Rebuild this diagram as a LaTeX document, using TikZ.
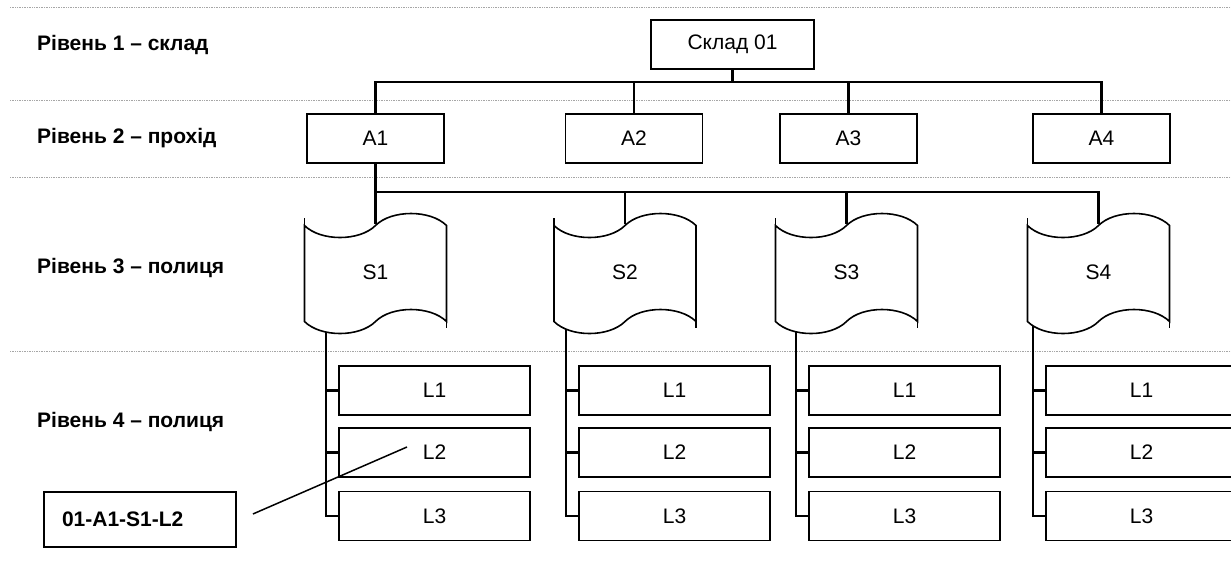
\documentclass[tikz,border=0pt]{standalone}
\usepackage{fontspec}
\setmainfont{Liberation Sans}
\usetikzlibrary{backgrounds}
\begin{document}
\begin{tikzpicture}[x=1pt,y=-1pt,
  box/.style={draw, line width=1.8pt, fill=white, inner sep=0pt, minimum height=49pt, font=\fontsize{21}{25}\selectfont},
  shelftext/.style={inner sep=0pt, minimum width=142pt, minimum height=96pt, font=\fontsize{21}{25}\selectfont},
  conn/.style={line width=2.2pt},
  lvl/.style={anchor=west, inner sep=0pt, font=\fontsize{21}{25}\selectfont\bfseries},
  sep/.style={gray!70, line width=0.7pt, densely dotted}]
\useasboundingbox (0,0) rectangle (1231,574);
\node[lvl] (lv1) at (37,45) {Рівень 1 – склад};
\node[lvl] (lv2) at (37,138) {Рівень 2 – прохід};
\node[lvl] (lv3) at (37,268) {Рівень 3 – полиця};
\node[lvl] (lv4) at (37,422) {Рівень 4 – полиця};
\node[box, minimum width=163pt] (sklad) at (732.5,44.5) {Склад 01};
\node[box, minimum width=137pt] (a1) at (375.5,138.5) {A1};
\node[box, minimum width=137pt] (a2) at (634,138.5) {A2};
\node[box, minimum width=137pt] (a3) at (848.5,138.5) {A3};
\node[box, minimum width=137pt] (a4) at (1101.5,138.5) {A4};
\foreach \i/\x in {1/375.5, 2/625, 3/846.5, 4/1098.5}{
  \begin{scope}[shift={(\x,272.5)}, line width=1.6pt]
    \filldraw[fill=white] (-71,-47) .. controls (-55,-31) and (-16,-31) .. (0,-47)
      .. controls (16,-63) and (55,-63) .. (71,-47) -- (71,49)
      .. controls (55,33) and (16,33) .. (0,49)
      .. controls (-16,65) and (-55,65) .. (-71,49) -- cycle;
    \draw (-71,-47) -- (-71,-55);
    \draw (71,49) -- (71,55);
  \end{scope}
  \node[shelftext] (s\i) at (\x,272.5) {S\i};
}
\foreach \i/\x in {1/434.5, 2/674.5, 3/904.5, 4/1141.5}{
  \node[box, minimum width=191pt] (l\i1) at (\x,390.5) {L1};
  \node[box, minimum width=191pt] (l\i2) at (\x,452.5) {L2};
  \node[box, minimum width=191pt] (l\i3) at (\x,516) {L3};
}
\node[box, minimum width=192pt, minimum height=55pt, inner xsep=18pt, text width=156pt, align=left, font=\fontsize{21}{25}\selectfont\bfseries] (tag) at (140,519.5) {01-A1-S1-L2};
\begin{scope}[on background layer]
\fill[white] (0,0) rectangle (1231,574);
\foreach \y in {7,100,177,351}
  \draw[sep] (10,\y) -- (1231,\y);
\coordinate (bus1) at (0,82);
\coordinate (bus2) at (0,192);
\draw[conn] (sklad.south) -- (sklad.south |- bus1);
\draw[conn] (a1.north) |- (bus1 -| a4.north) -- (a4.north);
\draw[conn] (a2.north) -- (a2.north |- bus1);
\draw[conn] (a3.north) -- (a3.north |- bus1);
\draw[line width=2.8pt] (a1.south) -- (s1.north);
\draw[conn] (a1.south |- bus2) -| (s4.north);
\draw[conn] (s2.north) -- (s2.north |- bus2);
\draw[conn] (s3.north) -- (s3.north |- bus2);
\foreach \i in {1,2,3,4}{
  \coordinate (sp\i) at ([xshift=-12.5pt]l\i1.west);
  \draw[conn] (s\i.center -| sp\i) -- (sp\i |- l\i3.west) -- (l\i3.west);
  \draw[conn] (sp\i |- l\i1.west) -- (l\i1.west);
  \draw[conn] (sp\i |- l\i2.west) -- (l\i2.west);
}
\end{scope}
\coordinate (tagend) at ([shift={(16,-5.5)}]tag.east);
\coordinate (tagtip) at ([shift={(-27.5,-5.5)}]l12.center);
\draw[line width=1.5pt] (tagend) -- (tagtip);
\end{tikzpicture}
\end{document}
